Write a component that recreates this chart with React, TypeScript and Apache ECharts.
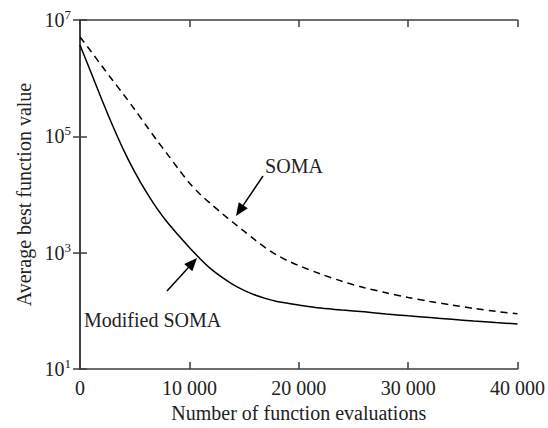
import React, { useEffect, useRef } from "react";
import * as echarts from "echarts";

const evaluations = [
  0, 1000, 2000, 3000, 4000, 5000, 6000, 7000, 8000, 9000, 10000, 11000, 12000,
  13000, 14000, 15000, 16000, 17000, 18000, 19000, 20000, 22000, 24000, 26000,
  28000, 30000, 32000, 34000, 36000, 38000, 40000,
];
const modifiedSoma = [
  3.7e6, 1.26e6, 4.27e5, 1.51e5, 5.75e4, 2.45e4, 1.15e4, 5900, 3300, 2000, 1230,
  780, 520, 375, 282, 225, 187, 162, 145, 135, 126, 112, 103, 96, 88.5, 82,
  76.5, 71.5, 67, 63, 59.5,
];
const soma = [
  5.1e6, 2.9e6, 1.62e6, 9.1e5, 5.2e5, 2.9e5, 1.58e5, 8.7e4, 4.9e4, 2.75e4, 1.58e4,
  1.0e4, 6800, 4700, 3300, 2340, 1660, 1200, 910, 725, 600, 430, 320, 250, 204,
  170, 145, 126, 110, 98, 89,
];
const xTickValues = [0, 10000, 20000, 30000, 40000];
const yTickExponents = [1, 3, 5, 7];
const seriesNames = ["Modified SOMA", "SOMA"];

const FONT = "Liberation Serif";
const INK = "#222";
const FRAME = "#3c3c3c";

function arrow(x1: number, y1: number, x2: number, y2: number) {
  const dx = x2 - x1;
  const dy = y2 - y1;
  const len = Math.sqrt(dx * dx + dy * dy);
  const ux = dx / len;
  const uy = dy / len;
  const headLen = 13;
  const halfW = 5.5;
  const bx = x2 - ux * headLen;
  const by = y2 - uy * headLen;
  return [
    {
      type: "line",
      shape: { x1, y1, x2: bx + ux * 2, y2: by + uy * 2 },
      style: { stroke: "#000", lineWidth: 1.5 },
    },
    {
      type: "polygon",
      shape: {
        points: [
          [x2, y2],
          [bx - uy * halfW, by + ux * halfW],
          [bx + uy * halfW, by - ux * halfW],
        ],
      },
      style: { fill: "#000" },
    },
  ];
}

export default function App() {
  const ref = useRef<HTMLDivElement>(null);
  useEffect(() => {
    if (!ref.current) return;
    const chart = echarts.init(ref.current, null, { renderer: "svg" });
    const fmtX = (v: number) =>
      v === 0 ? "0" : `${Math.round(v / 1000)} 000`;
    const fmtY = (v: number) => `{b|10}{s|${Math.round(Math.log10(v))}}`;
    const xMin = xTickValues[0];
    const xMax = xTickValues[xTickValues.length - 1];
    const yMin = Math.pow(10, yTickExponents[0]);
    const yMax = Math.pow(10, yTickExponents[yTickExponents.length - 1]);
    const axisLine = { show: true, lineStyle: { color: FRAME, width: 1.6 } };
    const axisTick = { show: true, inside: true, length: 7, lineStyle: { color: FRAME, width: 1.5 } };
    chart.setOption({
      animation: false,
      backgroundColor: "#fff",
      grid: { left: 80, right: 29, top: 20, bottom: 59, containLabel: false },
      xAxis: [
        {
          type: "value",
          min: xMin,
          max: xMax,
          interval: 10000,
          name: "Number of function evaluations",
          nameLocation: "middle",
          nameGap: 34,
          nameTextStyle: { fontFamily: FONT, fontSize: 20, color: INK },
          axisLine,
          axisTick,
          splitLine: { show: false },
          axisLabel: { fontFamily: FONT, fontSize: 20, color: INK, margin: 9, formatter: fmtX },
        },
        {
          type: "value",
          position: "top",
          min: xMin,
          max: xMax,
          interval: 10000,
          axisLine,
          axisTick,
          splitLine: { show: false },
          axisLabel: { show: false },
        },
      ],
      yAxis: [
        {
          type: "log",
          logBase: 10,
          min: yMin,
          max: yMax,
          interval: 2,
          name: "Average best function value",
          nameLocation: "middle",
          nameGap: 46,
          nameTextStyle: { fontFamily: FONT, fontSize: 20, color: INK },
          axisLine,
          axisTick,
          minorTick: { show: false },
          splitLine: { show: false },
          axisLabel: {
            margin: 9,
            formatter: fmtY,
            rich: {
              b: { fontFamily: FONT, fontSize: 20, color: INK },
              s: { fontFamily: FONT, fontSize: 13, color: INK, padding: [0, 0, 11, 0] },
            },
          },
        },
        {
          type: "log",
          logBase: 10,
          position: "right",
          min: yMin,
          max: yMax,
          interval: 2,
          axisLine,
          axisTick,
          splitLine: { show: false },
          axisLabel: { show: false },
        },
      ],
      series: [
        {
          name: seriesNames[0],
          type: "line",
          showSymbol: false,
          smooth: 0.3,
          data: evaluations.map((x, i) => [x, modifiedSoma[i]]),
          lineStyle: { color: "#000", width: 1.5, type: "solid" },
          silent: true,
        },
        {
          name: seriesNames[1],
          type: "line",
          showSymbol: false,
          smooth: 0.3,
          data: evaluations.map((x, i) => [x, soma[i]]),
          lineStyle: { color: "#000", width: 1.5, type: [7, 5] },
          silent: true,
        },
      ],
      graphic: [
        {
          type: "text",
          x: 294,
          y: 166,
          style: {
            text: seriesNames[1],
            fontFamily: FONT,
            fontSize: 20,
            fill: INK,
            align: "center",
            verticalAlign: "middle",
          },
        },
        ...arrow(263, 176, 236, 216),
        {
          type: "text",
          x: 84,
          y: 320,
          style: {
            text: seriesNames[0],
            fontFamily: FONT,
            fontSize: 20,
            fill: INK,
            align: "left",
            verticalAlign: "middle",
          },
        },
        ...arrow(167, 291, 197, 258),
      ],
    });
    return () => chart.dispose();
  }, []);
  return (
    <div
      ref={ref}
      style={{ position: "fixed", left: 0, top: 0, width: 548, height: 428, background: "#fff" }}
    />
  );
}
